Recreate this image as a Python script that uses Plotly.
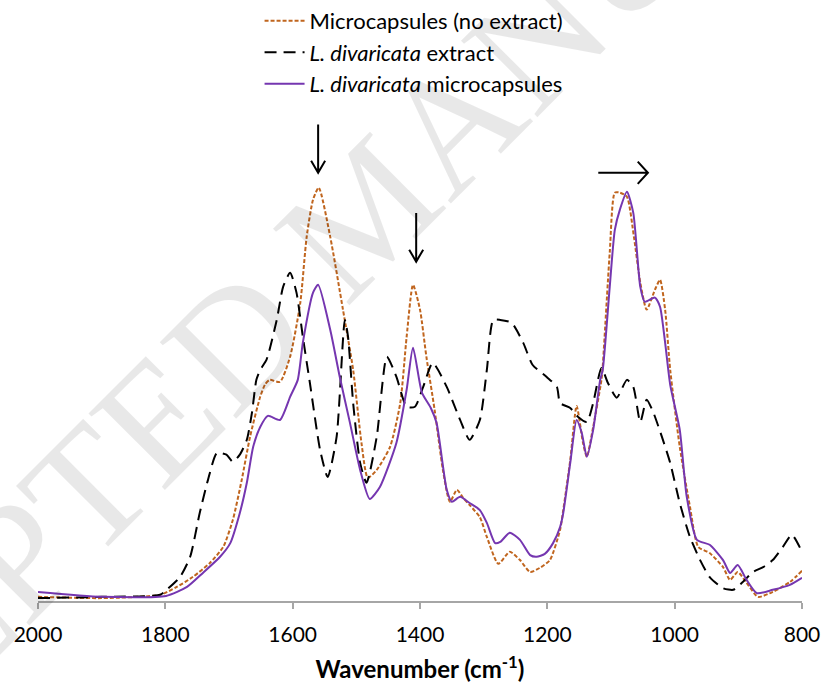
import plotly.graph_objects as go

# Wavenumber (cm-1) and relative absorbance (% of max)
wn_caps = [2000, 1900, 1808, 1782, 1757, 1730, 1709, 1694, 1680, 1667, 1651, 1643, 1636, 1620, 1604,
           1588, 1578, 1568, 1559, 1541, 1521, 1505, 1492, 1482, 1468, 1447, 1431, 1421, 1411, 1400,
           1390, 1377, 1364, 1353, 1342, 1332, 1322, 1306, 1295, 1277, 1259, 1243, 1227, 1212, 1196,
           1180, 1175, 1164, 1154, 1144, 1138, 1128, 1115, 1113, 1102, 1094, 1086, 1075, 1064, 1054,
           1044, 1031, 1023, 1015, 1007, 992, 976, 963, 945, 924, 913, 901, 887, 869, 846, 819, 800]
abs_caps = [1.0, 0.7, 1.5, 3.4, 5.8, 9.2, 13.1, 19.6, 29.3, 39.7, 49.4, 52.5, 53.5, 53.0, 59.1,
            72.2, 88.1, 97.1, 100.0, 88.1, 70.5, 55.9, 38.3, 29.8, 31.7, 37.3, 47.9, 63.9, 76.5, 70.5,
            59.1, 46.2, 31.7, 24.0, 26.9, 24.9, 23.2, 20.3, 15.5, 9.0, 11.9, 9.9, 7.0, 8.0, 9.9,
            17.2, 22.0, 34.1, 47.2, 38.3, 34.9, 42.1, 53.5, 56.7, 84.3, 98.8, 98.8, 97.8, 88.1, 77.0,
            70.5, 75.3, 77.7, 70.5, 55.9, 37.3, 22.8, 13.1, 11.6, 8.2, 5.1, 7.0, 4.4, 1.0, 2.2, 4.6, 7.3]

wn_ext = [2000, 1900, 1808, 1798, 1777, 1761, 1746, 1733, 1719, 1704, 1694, 1683, 1672, 1664, 1657,
          1651, 1641, 1625, 1615, 1604, 1594, 1584, 1573, 1557, 1545, 1531, 1518, 1513, 1505, 1494,
          1484, 1468, 1452, 1437, 1421, 1408, 1395, 1380, 1358, 1337, 1322, 1306, 1295, 1285, 1274,
          1256, 1238, 1223, 1201, 1185, 1180, 1164, 1152, 1138, 1128, 1115, 1105, 1091, 1075, 1065,
          1054, 1044, 1034, 1020, 1007, 992, 976, 960, 945, 924, 908, 893, 877, 861, 846, 830, 816, 800]
abs_ext = [0.7, 1.0, 1.5, 2.7, 5.8, 10.7, 21.3, 29.3, 35.8, 35.4, 33.7, 35.4, 39.0, 45.5, 53.5,
           55.9, 58.4, 68.0, 76.0, 79.4, 74.6, 63.9, 52.8, 36.6, 30.0, 39.7, 68.0, 63.9, 47.9, 33.4,
           28.6, 39.7, 59.1, 54.2, 47.0, 47.0, 51.8, 57.6, 51.8, 43.8, 39.0, 43.8, 55.9, 68.0, 68.0,
           67.3, 62.5, 57.1, 54.2, 51.8, 47.9, 46.7, 44.6, 43.3, 47.9, 56.4, 52.8, 49.2, 53.5, 51.8,
           43.3, 48.7, 45.8, 39.7, 33.4, 23.7, 15.5, 9.9, 5.8, 3.1, 2.7, 4.6, 7.0, 8.2, 9.9, 13.1, 16.0, 11.9]

wn_ld = [2000, 1900, 1799, 1766, 1741, 1714, 1698, 1683, 1672, 1662, 1651, 1639, 1620, 1604, 1592,
         1584, 1568, 1560, 1541, 1526, 1510, 1494, 1479, 1463, 1437, 1421, 1411, 1397, 1383, 1374,
         1358, 1350, 1337, 1322, 1306, 1295, 1282, 1274, 1259, 1243, 1227, 1217, 1204, 1191, 1180,
         1175, 1164, 1154, 1146, 1138, 1128, 1117, 1113, 1102, 1094, 1086, 1075, 1065, 1054, 1047,
         1031, 1023, 1015, 1007, 992, 981, 965, 945, 924, 913, 901, 887, 871, 846, 819, 800]
abs_ld = [2.2, 1.0, 1.2, 3.4, 6.8, 10.7, 14.0, 21.3, 28.6, 37.3, 42.1, 44.8, 43.8, 49.4, 53.5,
          62.5, 74.6, 76.5, 65.6, 54.2, 43.1, 31.7, 24.7, 27.6, 38.3, 51.1, 61.3, 50.4, 46.7, 43.1,
          26.9, 24.0, 25.2, 23.7, 22.0, 18.9, 14.0, 14.3, 16.5, 14.8, 11.1, 10.7, 11.4, 14.0, 17.9,
          21.3, 33.4, 43.8, 40.7, 34.9, 41.4, 53.5, 55.9, 76.0, 89.8, 94.7, 99.0, 93.9, 76.0, 72.4,
          73.4, 71.2, 62.5, 52.3, 41.4, 25.2, 14.8, 13.6, 9.9, 6.8, 8.7, 5.1, 1.9, 2.7, 3.9, 5.6]

x_ticks = [2000, 1800, 1600, 1400, 1200, 1000, 800]

names = ["Microcapsules (no extract)",
         "<i>L. divaricata</i> extract",
         "<i>L. divaricata</i> microcapsules"]

fig = go.Figure()
fig.add_trace(go.Scatter(x=wn_caps, y=abs_caps, mode="lines", name=names[0],
                         line=dict(color="#C0651E", width=2, dash="4px,2px", shape="spline", smoothing=0.6)))
fig.add_trace(go.Scatter(x=wn_ext, y=abs_ext, mode="lines", name=names[1],
                         line=dict(color="#000000", width=2, dash="12px,7px", shape="spline", smoothing=0.6)))
fig.add_trace(go.Scatter(x=wn_ld, y=abs_ld, mode="lines", name=names[2],
                         line=dict(color="#7536B0", width=2, shape="spline", smoothing=0.6)))

# arrows (open V heads) as shapes in data coordinates
arrow_paths = [
    "M 1560,115.3 L 1560,103.6 M 1549,106.5 L 1560,103.6 L 1571,106.5",
    "M 1406,93.9 L 1406,82.1 M 1395,85.0 L 1406,82.1 L 1417,85.0",
    "M 1120,103.6 L 1042,103.6 M 1058,106.3 L 1042,103.6 L 1058,100.9",
]
for p in arrow_paths:
    fig.add_shape(type="path", path=p, xref="x", yref="y",
                  line=dict(color="black", width=2))

# watermark
fig.add_annotation(text="ACCEPTED MANUSCRIPT", xref="paper", yref="paper",
                   x=0.43, y=0.79, xanchor="center", yanchor="middle",
                   showarrow=False, textangle=-45,
                   font=dict(family="Liberation Serif", size=165, color="rgba(0,0,0,0.09)"))

fig.update_layout(
    width=825, height=684,
    margin=dict(l=38, r=23, t=105, b=83, autoexpand=False),
    paper_bgcolor="white", plot_bgcolor="white",
    font=dict(family="Lato", color="black"),
    showlegend=True,
    legend=dict(x=0.29, y=1.212, xanchor="left", yanchor="top",
                font=dict(family="Lato", size=22, color="black"),
                bgcolor="rgba(0,0,0,0)", itemwidth=40, tracegroupgap=0),
    xaxis=dict(range=[2000, 800], tickvals=x_ticks, ticktext=[str(v) for v in x_ticks],
               showgrid=False, zeroline=False, showline=True, linecolor="#A6A6A6", linewidth=1.5,
               ticks="outside", ticklen=6, tickcolor="#A6A6A6", tickwidth=1.5,
               ticklabelstandoff=8, ticklabeloverflow="allow",
               tickfont=dict(family="Lato", size=21, color="black"),
               title=dict(text="<b>Wavenumber (cm<sup>-1</sup>)</b>",
                          font=dict(family="Lato", size=24, color="black"), standoff=16)),
    yaxis=dict(range=[0, 120], visible=False, showgrid=False, zeroline=False),
)

fig.write_html("out.html", config={"displayModeBar": False},
               post_script="document.body.style.margin='0';")
